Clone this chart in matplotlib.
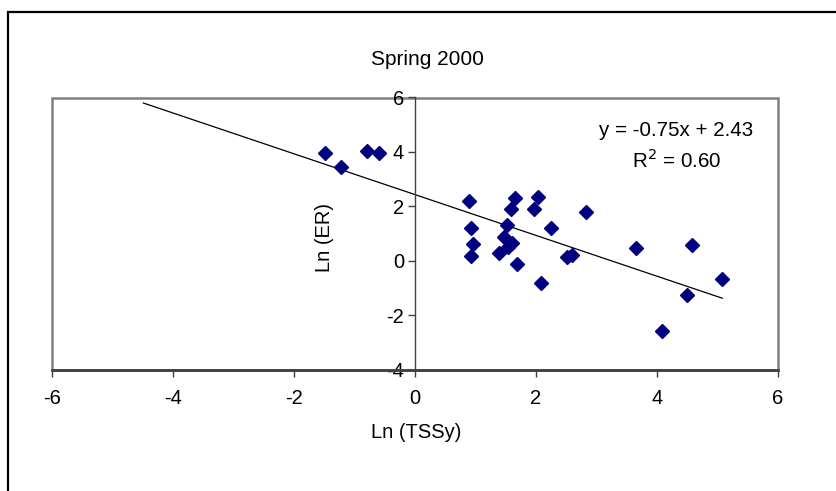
import numpy as np
import matplotlib
matplotlib.use("Agg")
import matplotlib.pyplot as plt
from matplotlib.patches import Rectangle

plt.rcParams['font.family'] = ['Liberation Sans', 'DejaVu Sans']
plt.rcParams['axes.unicode_minus'] = False

# Ln(TSSy) vs Ln(ER), Spring 2000
ln_tssy = [-1.49, -1.23, -0.79, -0.60,
           0.89, 0.92, 0.96, 0.92,
           1.65, 1.59, 1.52, 1.47, 1.60, 1.54, 1.39, 1.69,
           2.04, 1.96, 2.08, 2.24, 2.83, 2.52, 2.59,
           3.66, 4.58, 5.08, 4.50, 4.09]
ln_er = [3.97, 3.45, 4.03, 3.97,
         2.20, 1.21, 0.61, 0.18,
         2.29, 1.90, 1.31, 0.88, 0.64, 0.51, 0.29, -0.13,
         2.33, 1.90, -0.81, 1.22, 1.80, 0.12, 0.21,
         0.45, 0.57, -0.69, -1.25, -2.58]

slope = -0.75
intercept = 2.43
r2 = 0.60
backcast = 3.0

fig = plt.figure(figsize=(8.37, 4.91), dpi=100)
ax = fig.add_axes([52 / 837, 1 - 369.5 / 491, 726 / 837, 272 / 491])

# trendline
tx = np.array([min(ln_tssy) - backcast, max(ln_tssy)])
ax.plot(tx, slope * tx + intercept, color='black', lw=0.9, zorder=2)

ax.plot(ln_tssy, ln_er, linestyle='none', marker='D', ms=7.6,
        color='#000080', mec='#000080', zorder=3)

ax.set_xlim(-6, 6)
ax.set_ylim(-4, 6)
ax.set_xticks(np.arange(-6, 7, 2))
ax.set_yticks(np.arange(-4, 7, 2))

# Excel-like axes: y axis crosses at x = 0
ax.spines['top'].set_visible(False)
ax.spines['right'].set_visible(False)
ax.spines['left'].set_position(('data', 0))
ax.spines['left'].set_color('#404040')
ax.spines['left'].set_linewidth(1.0)
ax.spines['bottom'].set_color('#404040')
ax.spines['bottom'].set_linewidth(2.0)
ax.tick_params(axis='both', direction='out', length=5, width=1,
               color='#404040', labelsize=14.5, pad=3)
ax.tick_params(axis='x', pad=9)

# plot area border
ax.add_patch(Rectangle((0, 0), 1, 1, transform=ax.transAxes, fill=False,
                       edgecolor='#808080', lw=1.8, zorder=0, clip_on=False))

fig.text(325 / 837, 1 - 238 / 491, 'Ln (ER)', rotation=90, ha='center', va='center',
         fontsize=14.5)
fig.text(416 / 837, 1 - 433 / 491, 'Ln (TSSy)', ha='center', va='center', fontsize=14.5)
fig.text(427 / 837, 1 - 60 / 491, 'Spring 2000', ha='center', va='center', fontsize=15)

fig.text(676 / 837, 1 - 130 / 491, 'y = %.2fx + %.2f' % (slope, intercept),
         ha='center', va='center', fontsize=14.8)
fig.text(677 / 837, 1 - 160 / 491, 'R$^2$ = %.2f' % r2,
         ha='center', va='center', fontsize=14.8)

# outer chart frame
fig.patches.append(Rectangle((8 / 837, -0.2), 1.2, 1.2 - 12 / 491, transform=fig.transFigure,
                             fill=False, edgecolor='black', lw=1.6))

fig.savefig('out.png', dpi=100)
